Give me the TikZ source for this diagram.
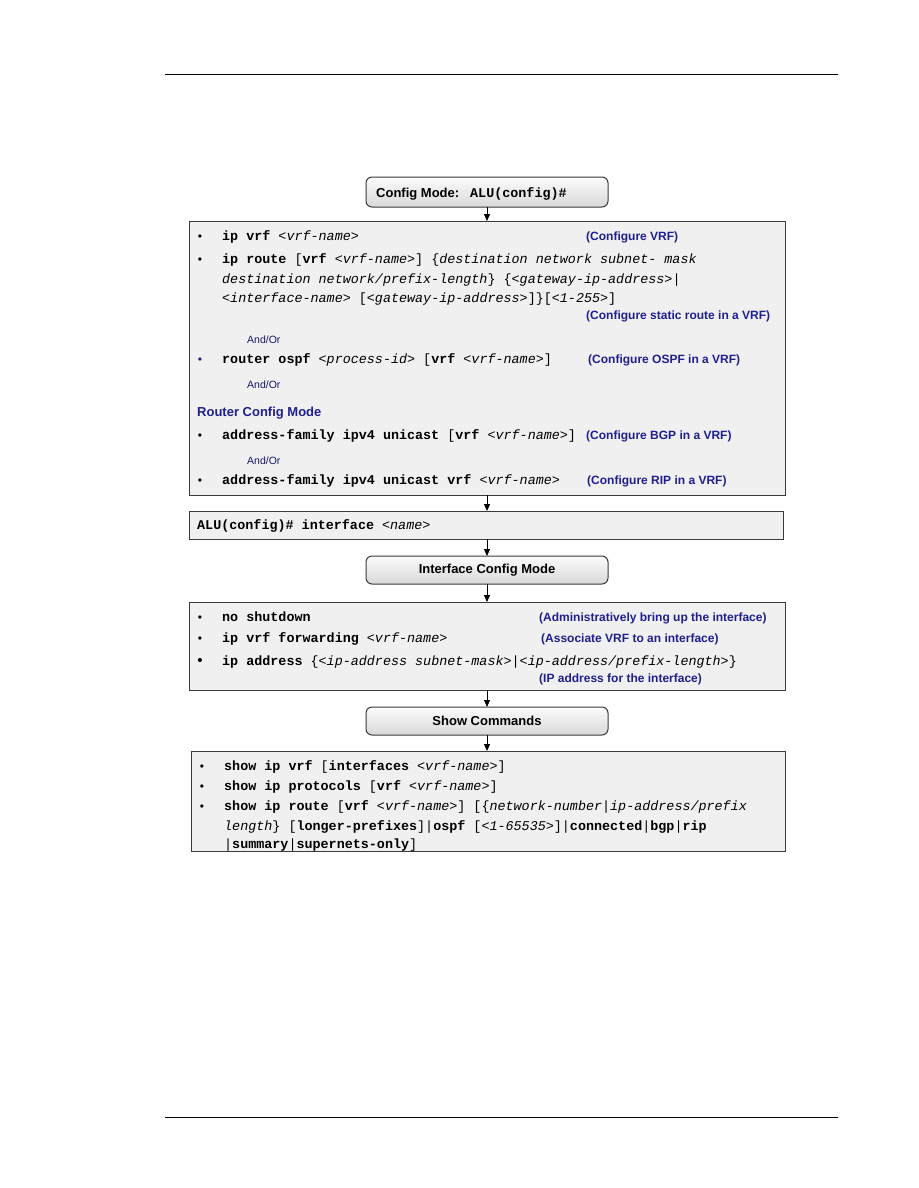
\documentclass[tikz,border=0pt]{standalone}
\usepackage{fontspec}
\setmainfont{Liberation Sans}
\newfontfamily\mono{Liberation Mono}
\usetikzlibrary{arrows.meta}
\definecolor{navy}{HTML}{1F1F8F}
\definecolor{boxfill}{HTML}{F0F0F0}
\definecolor{edge}{HTML}{3A3A3A}
\tikzset{
 panel/.style={draw=edge, line width=1pt, fill=boxfill, inner sep=0pt, outer sep=0pt},
 modebox/.style={draw=edge, line width=1pt, rounded corners=6pt, top color=white!97!gray, bottom color=gray!30, inner sep=0pt, outer sep=0pt, minimum width=242pt, font=\fontsize{13}{15}\selectfont\bfseries},
 cmd/.style={anchor=base west, inner sep=0pt, font=\mono\fontsize{13.4}{16}\selectfont},
 lbl/.style={anchor=base west, inner sep=0pt, text=navy, font=\fontsize{12}{14}\selectfont\bfseries},
 andor/.style={anchor=base west, inner sep=0pt, text=navy!70!black, font=\fontsize{10.5}{12}\selectfont},
 bul/.style={anchor=base, inner sep=0pt, font=\fontsize{12}{14}\selectfont},
 arr/.style={-{Triangle[width=6pt,length=7pt]}, line width=0.8pt, black},
 rule/.style={line width=0.8pt, black},
}
\begin{document}
\begin{tikzpicture}[x=1pt,y=-1pt]
\useasboundingbox[fill=white] (0,0) rectangle (918,1188);
% header / footer rules
\coordinate (hl) at (165,74); \coordinate (hr) at (838,74);
\coordinate (fl) at (165,1117); \coordinate (fr) at (838,1117);
\draw[rule] (hl) -- (hr);
\draw[rule] (fl) -- (fr);

% Config mode box
\node[modebox, minimum height=30pt] (cfg) at (487,192) {};
\node[anchor=base west, inner sep=0pt, font=\fontsize{13}{15}\selectfont\bfseries] (cfgt) at (376,197) {Config Mode:};
\node[cmd] (cfgp) at (470,197) {\textbf{ALU(config)\#}};

% Box 1
\node[panel, minimum width=596pt, minimum height=274pt] (box1) at (487,358) {};
\node[bul] (b1) at (200,240) {\textbullet};
\node[cmd] (c1) at (222,240) {\textbf{ip vrf} \textit{<vrf-name>}};
\node[lbl] (d1) at (586,240) {(Configure VRF)};
\node[bul] (b2) at (200,263) {\textbullet};
\node[cmd] (c2a) at (222,263) {\textbf{ip route} [\textbf{vrf} \textit{<vrf-name>}] \{\textit{destination network subnet- mask}};
\node[cmd] (c2b) at (222,283) {\textit{destination network/prefix-length}\} \{\textit{<gateway-ip-address>}|};
\node[cmd] (c2c) at (222,302) {\textit{<interface-name>} [\textit{<gateway-ip-address>}]\}[\textit{<1-255>}]};
\node[lbl] (d2) at (586,319) {(Configure static route in a VRF)};
\node[andor] (ao1) at (247,343) {And/Or};
\node[bul, text=navy] (b3) at (200,363) {\textbullet};
\node[cmd] (c3) at (222,363) {\textbf{router ospf} \textit{<process-id>} [\textbf{vrf} \textit{<vrf-name>}]};
\node[lbl] (d3) at (588,363) {(Configure OSPF in a VRF)};
\node[andor] (ao2) at (247,388) {And/Or};
\node[anchor=base west, inner sep=0pt, text=navy, font=\fontsize{13}{15}\selectfont\bfseries] (rcm) at (197,416) {Router Config Mode};
\node[bul] (b4) at (200,439) {\textbullet};
\node[cmd] (c4) at (222,439) {\textbf{address-family ipv4 unicast} [\textbf{vrf} \textit{<vrf-name>}]};
\node[lbl] (d4) at (586,439) {(Configure BGP in a VRF)};
\node[andor] (ao3) at (247,464) {And/Or};
\node[bul] (b5) at (200,484) {\textbullet};
\node[cmd] (c5) at (222,484) {\textbf{address-family ipv4 unicast vrf} \textit{<vrf-name>}};
\node[lbl] (d5) at (587,484) {(Configure RIP in a VRF)};

% Box 2
\node[panel, minimum width=594pt, minimum height=28pt] (box2) at (486,525) {};
\node[cmd] (c6) at (197,529) {\textbf{ALU(config)\# interface} \textit{<name>}};

% Interface config mode
\node[modebox, minimum height=28pt] (ifm) at (487,570) {Interface Config Mode};

% Box 3
\node[panel, minimum width=596pt, minimum height=88pt] (box3) at (487,646) {};
\node[bul] (b6) at (200,621) {\textbullet};
\node[cmd] (c7) at (222,621) {\textbf{no shutdown}};
\node[lbl] (d6) at (539,621) {(Administratively bring up the interface)};
\node[bul] (b7) at (200,642) {\textbullet};
\node[cmd] (c8) at (222,642) {\textbf{ip vrf forwarding} \textit{<vrf-name>}};
\node[lbl] (d7) at (541,642) {(Associate VRF to an interface)};
\node[bul, font=\fontsize{15}{16}\selectfont] (b8) at (200,665) {\textbullet};
\node[cmd] (c9) at (222,665) {\textbf{ip address} \{\textit{<ip-address subnet-mask>}|\textit{<ip-address/prefix-length>}\}};
\node[lbl] (d8) at (539,682) {(IP address for the interface)};

% Show commands
\node[modebox, minimum height=28pt] (show) at (487,721) {Show Commands};

% Box 4
\node[panel, minimum width=594pt, minimum height=100pt] (box4) at (488,801) {};
\node[bul] (b9) at (202,770) {\textbullet};
\node[cmd] (c10) at (224,770) {\textbf{show ip vrf} [\textbf{interfaces} \textit{<vrf-name>}]};
\node[bul] (b10) at (202,790) {\textbullet};
\node[cmd] (c11) at (224,790) {\textbf{show ip protocols} [\textbf{vrf} \textit{<vrf-name>}]};
\node[bul] (b11) at (202,810) {\textbullet};
\node[cmd] (c12a) at (224,810) {\textbf{show ip route} [\textbf{vrf} \textit{<vrf-name>}] [\{\textit{network-number}|\textit{ip-address/prefix}};
\node[cmd] (c12b) at (224,830) {\textit{length}\} [\textbf{longer-prefixes}]|\textbf{ospf} [\textit{<1-65535>}]|\textbf{connected}|\textbf{bgp}|\textbf{rip}};
\node[cmd] (c12c) at (224,848) {|\textbf{summary}|\textbf{supernets-only}]};

% connectors
\draw[arr] (cfg.south) -- (cfg.south |- box1.north);
\draw[arr] (box1.south) -- (box1.south |- box2.north);
\draw[arr] (ifm.north |- box2.south) -- (ifm.north);
\draw[arr] (ifm.south) -- (ifm.south |- box3.north);
\draw[arr] (box3.south) -- (box3.south |- show.north);
\draw[arr] (show.south) -- (show.south |- box4.north);
\end{tikzpicture}
\end{document}
